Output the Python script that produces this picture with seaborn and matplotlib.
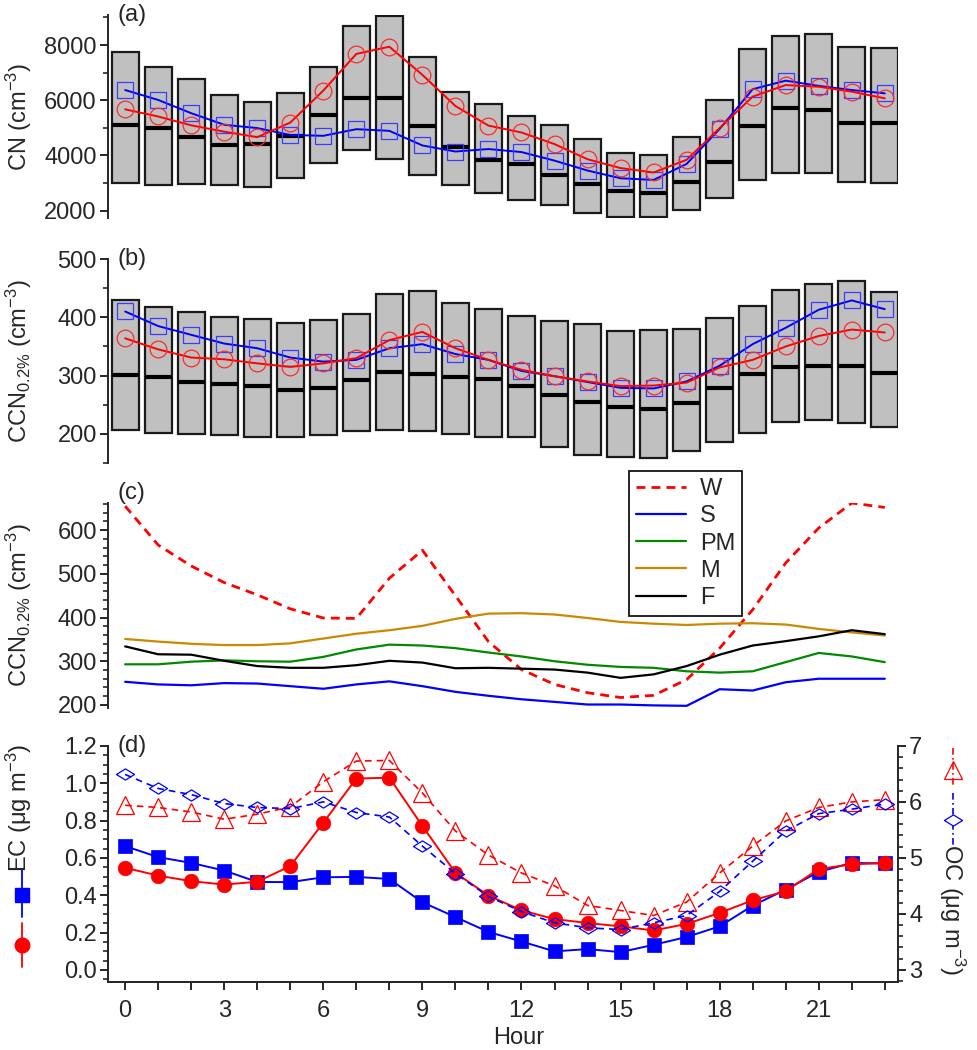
import numpy as np
import matplotlib
matplotlib.use("Agg")
import matplotlib.pyplot as plt
import seaborn as sns
from matplotlib.ticker import MultipleLocator

hours = np.arange(24)
hour_labels = [str(h) if h % 3 == 0 else "" for h in hours]

# (a) CN: box percentiles, median, and the two mean series
cn_hi = [7740, 7200, 6760, 6190, 5940, 6280, 7200, 8690, 9060, 7560, 6310, 5870,
         5440, 5100, 4600, 4100, 4020, 4650, 6010, 7860, 8330, 8400, 7920, 7880]
cn_lo = [3010, 2920, 2960, 2930, 2870, 3190, 3720, 4200, 3870, 3290, 2910, 2650,
         2390, 2200, 1910, 1780, 1780, 2030, 2470, 3090, 3350, 3350, 3030, 2990]
cn_med = [5100, 4990, 4650, 4360, 4410, 4710, 5470, 6070, 6070, 5070, 4320, 3840,
          3680, 3290, 2980, 2710, 2650, 3050, 3750, 5070, 5710, 5650, 5170, 5180]
cn_sq = [6370, 6010, 5530, 5110, 4990, 4740, 4710, 4950, 4890, 4360, 4140, 4230,
         4120, 3810, 3450, 3170, 3110, 3690, 4960, 6400, 6710, 6520, 6370, 6250]
cn_ci = [5670, 5410, 5090, 4860, 4660, 5190, 6350, 7680, 7940, 6920, 5790, 5080,
         4830, 4410, 3860, 3540, 3380, 3840, 4990, 6130, 6550, 6490, 6310, 6070]

# (b) CCN 0.2%
ccn_hi = [429, 418, 409, 401, 397, 391, 395, 405, 440, 445, 425, 414,
          403, 393, 389, 377, 379, 380, 399, 419, 447, 457, 463, 443]
ccn_lo = [206, 201, 199, 198, 195, 194, 198, 205, 207, 205, 199, 194,
          195, 177, 163, 160, 159, 171, 186, 202, 221, 223, 218, 211]
ccn_med = [301, 298, 289, 286, 282, 275, 278, 293, 307, 303, 298, 295,
           283, 267, 254, 247, 242, 253, 278, 302, 315, 317, 317, 305]
ccn_sq = [410, 385, 370, 355, 347, 331, 324, 327, 347, 354, 337, 327,
          308, 299, 289, 279, 278, 290, 317, 354, 382, 413, 429, 414]
ccn_ci = [364, 345, 331, 328, 321, 315, 321, 330, 361, 375, 347, 327,
          310, 299, 290, 282, 283, 288, 314, 327, 350, 368, 379, 374]

# (c) CCN 0.2% by season
ccn_w = [655, 566, 518, 480, 452, 420, 399, 398, 490, 554, 450, 345,
         281, 247, 228, 217, 222, 258, 330, 418, 525, 605, 662, 652]
ccn_s = [253, 247, 245, 250, 249, 243, 237, 247, 254, 243, 230, 221,
         213, 207, 201, 201, 199, 198, 236, 233, 252, 260, 260, 260]
ccn_pm = [293, 293, 299, 302, 300, 299, 310, 327, 338, 336, 330, 320,
          311, 300, 292, 287, 285, 277, 274, 277, 298, 319, 311, 298]
ccn_m = [351, 345, 340, 337, 337, 341, 352, 363, 371, 381, 397, 409,
         410, 407, 399, 390, 386, 383, 386, 387, 384, 374, 366, 359]
ccn_f = [334, 316, 315, 301, 289, 285, 285, 291, 301, 297, 284, 285,
         283, 281, 274, 262, 270, 289, 315, 336, 346, 357, 371, 362]

# (d) EC (left axis) and OC (right axis)
ec_sq = [0.663, 0.604, 0.573, 0.532, 0.471, 0.470, 0.496, 0.498, 0.487, 0.362, 0.283, 0.203,
         0.152, 0.099, 0.111, 0.095, 0.134, 0.176, 0.233, 0.344, 0.430, 0.525, 0.573, 0.570]
ec_ci = [0.547, 0.505, 0.475, 0.457, 0.472, 0.556, 0.789, 1.025, 1.030, 0.771, 0.520, 0.398,
         0.319, 0.272, 0.251, 0.233, 0.211, 0.246, 0.305, 0.373, 0.421, 0.541, 0.565, 0.573]
oc_tri = [5.94, 5.90, 5.82, 5.69, 5.78, 5.91, 6.36, 6.73, 6.74, 6.16, 5.48, 5.05,
          4.73, 4.50, 4.15, 4.06, 3.97, 4.21, 4.73, 5.21, 5.66, 5.90, 6.00, 6.04]
oc_dia = [6.49, 6.24, 6.13, 5.97, 5.90, 5.88, 6.00, 5.81, 5.73, 5.21, 4.72, 4.31,
          4.04, 3.84, 3.75, 3.72, 3.84, 3.97, 4.40, 4.94, 5.48, 5.79, 5.87, 5.96]

RED = "#ff0000"
BLUE = "#0000ff"
FS = 17

sns.set_theme(style="ticks")
plt.rcParams["font.family"] = ["Liberation Sans", "DejaVu Sans"]
plt.rcParams["mathtext.default"] = "regular"
plt.rcParams["axes.linewidth"] = 1.4

fig = plt.figure(figsize=(9.78, 10.5), dpi=100)
L, W = 0.1104, 0.8078
ax_a = fig.add_axes([L, 0.7924, W, 0.1933])
ax_b = fig.add_axes([L, 0.5590, W, 0.1943])
ax_c = fig.add_axes([L, 0.3257, W, 0.1952])
ax_d = fig.add_axes([L, 0.0648, W, 0.2248])

diamond = [(-1, 0), (0, 0.62), (1, 0), (0, -0.62), (-1, 0)]


def style_y(ax):
    ax.tick_params(axis="y", which="major", length=6, width=1.4, labelsize=FS, pad=2)
    ax.tick_params(axis="y", which="minor", length=3.5, width=1.2)
    ax.grid(False)


def boxes(ax, lo, hi, med):
    ax.bar(hours, np.subtract(hi, lo), bottom=lo, width=0.82, color="#c0c0c0",
           edgecolor="#1a1a1a", linewidth=1.6, zorder=1)
    ax.hlines(med, hours - 0.41, hours + 0.41, color="black", linewidth=3, zorder=2)


def mean_lines(ax, sq, ci):
    sns.lineplot(x=hours, y=sq, ax=ax, color=BLUE, linewidth=1.4, marker="s",
                 markersize=11.5, markerfacecolor="none", markeredgecolor="#3b3bff",
                 markeredgewidth=0.9, zorder=3)
    sns.lineplot(x=hours, y=ci, ax=ax, color=RED, linewidth=1.4, marker="o",
                 markersize=12, markerfacecolor="none", markeredgecolor="#ff2a2a",
                 markeredgewidth=0.9, zorder=4)


# (a)
boxes(ax_a, cn_lo, cn_hi, cn_med)
mean_lines(ax_a, cn_sq, cn_ci)
ax_a.set_ylim(1730, 9090)
ax_a.yaxis.set_major_locator(MultipleLocator(2000))
ax_a.yaxis.set_minor_locator(MultipleLocator(1000))
ax_a.set_ylabel("CN (cm$^{-3}$)", fontsize=FS)

# (b)
boxes(ax_b, ccn_lo, ccn_hi, ccn_med)
mean_lines(ax_b, ccn_sq, ccn_ci)
ax_b.set_ylim(150, 500)
ax_b.yaxis.set_major_locator(MultipleLocator(100))
ax_b.yaxis.set_minor_locator(MultipleLocator(50))
ax_b.set_ylabel("CCN$_{0.2\\%}$ (cm$^{-3}$)", fontsize=FS)

# (c)
season = [("W", ccn_w, RED, (0, (3.2, 2.2))), ("S", ccn_s, BLUE, "-"),
          ("PM", ccn_pm, "#008a00", "-"), ("M", ccn_m, "#cc8800", "-"),
          ("F", ccn_f, "black", "-")]
for name, vals, col, ls in season:
    sns.lineplot(x=hours, y=vals, ax=ax_c, color=col, linestyle=ls,
                 linewidth=2.0 if name == "W" else 1.6, label=name)
ax_c.set_ylim(193, 662)
ax_c.yaxis.set_major_locator(MultipleLocator(100))
ax_c.yaxis.set_minor_locator(MultipleLocator(20))
ax_c.set_ylabel("CCN$_{0.2\\%}$ (cm$^{-3}$)", fontsize=FS)
leg = ax_c.legend(loc="upper left", bbox_to_anchor=(0.6595, 1.156), borderaxespad=0,
                  fontsize=FS, frameon=True, fancybox=False, framealpha=1,
                  edgecolor="black", handlelength=2.1, labelspacing=0.22,
                  borderpad=0.3, handletextpad=0.6)
leg.get_frame().set_linewidth(1.2)

for ax, lab in zip([ax_a, ax_b, ax_c], ["(a)", "(b)", "(c)"]):
    ax.set_xlim(-0.52, 23.4)
    ax.set_xticks([])
    ax.set_xlabel("")
    sns.despine(ax=ax, bottom=True)
    style_y(ax)
    ax.yaxis.set_label_coords(-0.093, 0.5)
    ax.text(0.012, 1.0 if lab != "(c)" else 1.05, lab, transform=ax.transAxes,
            fontsize=FS, ha="left", va="center")

# (d)
ax2 = ax_d.twinx()
sns.lineplot(x=hours, y=ec_sq, ax=ax_d, color=BLUE, linewidth=1.4, marker="s",
             markersize=10.5, markerfacecolor=BLUE, markeredgecolor=BLUE,
             markeredgewidth=0.5, zorder=3)
sns.lineplot(x=hours, y=ec_ci, ax=ax_d, color=RED, linewidth=1.4, marker="o",
             markersize=10.5, markerfacecolor=RED, markeredgecolor=RED,
             markeredgewidth=0.5, zorder=4)
sns.lineplot(x=hours, y=oc_tri, ax=ax2, color=RED, linewidth=1.2,
             linestyle=(0, (4, 3)), marker="^", markersize=13,
             markerfacecolor="none", markeredgecolor=RED, markeredgewidth=0.9)
sns.lineplot(x=hours, y=oc_dia, ax=ax2, color=BLUE, linewidth=1.2,
             linestyle=(0, (4, 3)), marker=diamond, markersize=13,
             markerfacecolor="none", markeredgecolor=BLUE, markeredgewidth=0.9)

ax_d.set_xlim(-0.52, 23.4)
ax_d.set_ylim(-0.065, 1.2)
ax2.set_ylim(2.783, 7.0)
ax_d.set_xticks(hours)
ax_d.set_xticklabels(hour_labels)
ax_d.tick_params(axis="x", length=6, width=1.4, labelsize=FS, pad=7)
ax_d.yaxis.set_major_locator(MultipleLocator(0.2))
ax_d.yaxis.set_minor_locator(MultipleLocator(0.05))
ax_d.yaxis.set_major_formatter(matplotlib.ticker.FormatStrFormatter("%.1f"))
ax2.yaxis.set_major_locator(MultipleLocator(1))
ax2.yaxis.set_minor_locator(MultipleLocator(0.2))
style_y(ax_d)
style_y(ax2)
ax_d.set_ylabel("")
ax2.set_ylabel("")
ax_d.set_xlabel("Hour", fontsize=FS)
ax_d.xaxis.set_label_coords(0.52, -0.19)
for a in (ax_d, ax2):
    a.spines["top"].set_visible(False)
ax_d.spines["right"].set_visible(False)
ax_d.text(0.012, 1.0, "(d)", transform=ax_d.transAxes, fontsize=FS, ha="left", va="center")

# axis titles with their small key marks
ax_d.text(-0.113, 0.737, "EC (\u03bcg m$^{-3}$)", transform=ax_d.transAxes, rotation=90,
          ha="center", va="center", fontsize=FS)
ax_d.plot([-0.1089, -0.1089], [0.4746, 0.275], transform=ax_d.transAxes, clip_on=False,
          color=BLUE, lw=1.3)
ax_d.plot([-0.1089], [0.3686], transform=ax_d.transAxes, clip_on=False, color=BLUE,
          marker="s", markersize=10.5)
ax_d.plot([-0.1089, -0.1089], [0.25, 0.0636], transform=ax_d.transAxes, clip_on=False,
          color=RED, lw=1.3)
ax_d.plot([-0.1089], [0.157], transform=ax_d.transAxes, clip_on=False, color=RED,
          marker="o", markersize=10.5)

ax2.text(1.068, 0.305, "OC (\u03bcg m$^{-3}$)", transform=ax2.transAxes, rotation=-90,
         ha="center", va="center", fontsize=FS)
ax2.plot([1.0696, 1.0696], [0.9915, 0.826], transform=ax2.transAxes, clip_on=False,
         color=RED, lw=1.2, linestyle=(0, (4, 2, 1, 2)))
ax2.plot([1.0696], [0.898], transform=ax2.transAxes, clip_on=False, color=RED,
         marker="^", markersize=13, markerfacecolor="none", markeredgewidth=0.9)
ax2.plot([1.0696, 1.0696], [0.80, 0.572], transform=ax2.transAxes, clip_on=False,
         color=BLUE, lw=1.2, linestyle=(0, (4, 2, 1, 2)))
ax2.plot([1.0696], [0.686], transform=ax2.transAxes, clip_on=False, color=BLUE,
         marker=diamond, markersize=13, markerfacecolor="white", markeredgewidth=0.9)

fig.savefig("out.png", dpi=100)
